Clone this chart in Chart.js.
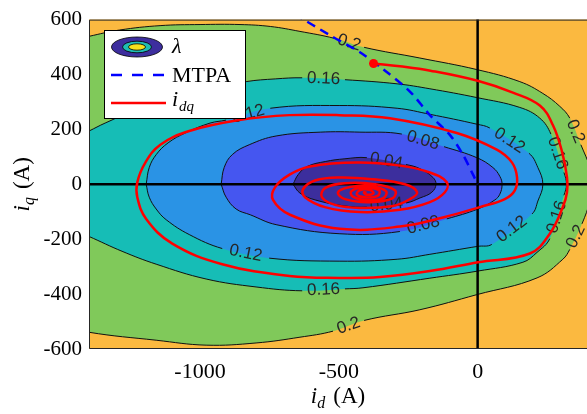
<!DOCTYPE html>
<html>
<head>
<meta charset="utf-8">
<script src="https://cdn.jsdelivr.net/npm/chart.js@4.4.1/dist/chart.umd.min.js"></script>
<style>
  html, body { margin: 0; padding: 0; background: #fff; }
  #wrap { width: 587px; height: 414px; }
</style>
</head>
<body>
<div id="wrap"><canvas id="flux" width="587" height="414"></canvas></div>
<script>
// --- flux linkage contours, [i_d, i_q] in A ---
// gaps = index of the segment where the inline level label sits
const lam020 = [[-1480,520],[-1400,539],[-1290,562],[-1144,578],[-1000,582],[-856,582],[-747,575],[-640,557],
  [-517,532],[-409,499],[-208,460],[-3,418],[152,374],[235,331],[296,284],[332,241],[372,144],[405,60],[415,0],
  [405,-60],[376,-144],[332,-237],[307,-273],[214,-341],[-3,-402],[-208,-457],[-409,-496],[-521,-535],[-640,-557],
  [-798,-578],[-978,-586],[-1158,-568],[-1400,-539],[-1480,-515],[-1480,520]];
const lam020Gaps = [8, 15, 20, 26];

const lam016 = [[-1470,160],[-1400,194],[-1342,223],[-1216,277],[-1072,320],[-928,352],[-834,374],[-729,384],
  [-632,388],[-478,381],[-290,366],[-172,348],[-3,316],[152,280],[224,241],[264,183],[311,43],[320,0],[311,-40],
  [260,-198],[214,-248],[163,-284],[1,-316],[-172,-342],[-413,-377],[-478,-381],[-632,-388],[-798,-374],
  [-978,-345],[-1158,-291],[-1281,-244],[-1400,-190],[-1470,-160],[-1470,160]];
const lam016Gaps = [8, 15, 18, 25];

const lam012 = [[-1194,0],[-1183,61],[-1158,108],[-1115,151],[-1053,187],[-964,223],[-906,234],[-747,277],
  [-499,287],[-290,277],[-172,255],[-3,219],[44,205],[185,113],[217,61],[235,0],[217,-61],[196,-108],[51,-219],
  [1,-226],[-172,-255],[-290,-273],[-499,-280],[-751,-269],[-920,-234],[-1039,-183],[-1122,-129],[-1158,-90],
  [-1183,-47],[-1194,0]];
const lam012Gaps = [6, 12, 17, 23];

const lam008 = [[-924,0],[-913,61],[-884,108],[-823,144],[-726,176],[-567,190],[-424,190],[-273,183],[-121,137],
  [-3,97],[55,61],[80,29],[88,0],[80,-36],[62,-57],[1,-90],[-111,-126],[-280,-172],[-499,-180],[-726,-147],
  [-819,-111],[-870,-90],[-906,-47],[-924,0]];
const lam008Gaps = [7, 16];

const lam004 = [[-665,0],[-646,36],[-614,65],[-549,83],[-478,93],[-399,97],[-258,72],[-208,57],[-161,25],
  [-150,0],[-165,-29],[-208,-50],[-258,-68],[-399,-83],[-478,-79],[-585,-57],[-640,-32],[-665,0]];
const lam004Gaps = [5, 12];

const levels = [0.04, 0.08, 0.12, 0.16, 0.2];

// outside every closed contour (lambda > 0.2)
const lamOuter = [[-1500,-700],[500,-700],[500,700],[-1500,700],[-1500,-700]];

// MTPA trajectory
const mtpa = [[-660,620],[-525,539],[-424,481],[-341,420],[-244,338],[-172,252],[-100,180],[-53,108],[-17,36],[0,0]];

// current trajectory i_dq, spiralling in from the start point
const idqStart = [[-375,440]];
const idq = [[-375,440],[-280,430],[-170,414],[0,377],[127,334],[224,287],[271,216],[304,119],[322,25],[322,-29],
  [307,-83],[260,-180],[188,-252],[1,-284],[-172,-316],[-352,-338],[-498,-341],[-678,-334],[-920,-291],
  [-1100,-216],[-1194,-126],[-1226,-47],[-1226,7],[-1197,79],[-1143,144],[-1039,194],[-859,234],[-678,252],
  [-498,252],[-316,241],[-75,187],[69,126],[124,79],[142,25],[134,-22],[98,-54],[8,-83],[-118,-119],[-280,-154],
  [-496,-162],[-676,-111],[-737,-57],[-730,-11],[-676,36],[-604,65],[-434,79],[-280,68],[-172,43],[-111,7],
  [-118,-29],[-172,-65],[-280,-93],[-424,-101],[-550,-83],[-622,-47],[-629,-18],[-586,14],[-496,25],[-376,18],
  [-262,0],[-218,-29],[-244,-54],[-305,-79],[-424,-86],[-514,-75],[-561,-47],[-550,-14],[-478,4],[-370,0],
  [-298,-22],[-305,-50],[-388,-65],[-478,-54],[-503,-29],[-460,-10],[-390,-5],[-330,-25],[-340,-50],[-400,-58],
  [-450,-45],[-455,-25],[-410,-12],[-355,-22],[-360,-42],[-400,-48],[-435,-38],[-425,-22],[-390,-20],[-375,-32],
  [-400,-38],[-410,-30],[-400,-30]];

// axes through the origin
const dAxis = [[-1500,0],[500,0]];
const qAxis = [[0,-700],[0,700]];

const xTicks = [-1000, -500, 0];
const yTicks = [-600, -400, -200, 0, 200, 400, 600];

const pts = a => a.map(([x, y]) => ({x, y}));

// one filled band + one outline with label gaps per level
function contour(data, gaps, level, color, order) {
  return [
    {data: pts(data), order, showLine: true, tension: 0.4, pointRadius: 0,
      fill: 'shape', backgroundColor: color, borderWidth: 0},
    {data: pts(data), gaps, level: String(level), order: order - 0.5,
      showLine: true, tension: 0.4, pointRadius: 0, fill: false,
      borderColor: '#111', borderWidth: 1,
      segment: {borderColor: c => gaps.includes(c.p0DataIndex) ? 'rgba(0,0,0,0)' : undefined}}
  ];
}

const serif = '"Liberation Serif", "Times New Roman", serif';

// draws runs of text (for subscripts), centred on x
function runs(ctx, parts, x, y) {
  let w = 0;
  parts.forEach(p => { ctx.font = p.f; w += ctx.measureText(p.t).width + (p.gap || 0); });
  let cx = x - w / 2;
  parts.forEach(p => {
    ctx.font = p.f;
    ctx.fillText(p.t, cx, y + (p.dy || 0));
    cx += ctx.measureText(p.t).width + (p.gap || 0);
  });
}

// inline contour labels, drawn right after each outline so the trajectories sit on top
const contourLabels = {
  id: 'contourLabels',
  afterDatasetDraw(chart, args) {
    const ds = chart.data.datasets[args.index];
    if (!ds.gaps) return;
    const {ctx, chartArea: a, scales: {x, y}} = chart;
    ctx.save();
    ctx.beginPath();
    ctx.rect(a.left, a.top, a.right - a.left, a.bottom - a.top);
    ctx.clip();
    ctx.font = '17px "Liberation Sans", Arial, sans-serif';
    ctx.fillStyle = '#262626';
    ctx.textAlign = 'center';
    ctx.textBaseline = 'middle';
    ds.gaps.forEach(i => {
      const p = ds.data[i], q = ds.data[i + 1];
      const x0 = x.getPixelForValue(p.x), y0 = y.getPixelForValue(p.y);
      const x1 = x.getPixelForValue(q.x), y1 = y.getPixelForValue(q.y);
      let ang = Math.atan2(y1 - y0, x1 - x0);
      if (ang > Math.PI / 2) ang -= Math.PI;
      else if (ang < -Math.PI / 2) ang += Math.PI;
      ctx.save();
      ctx.translate((x0 + x1) / 2, (y0 + y1) / 2);
      ctx.rotate(ang);
      ctx.fillText(ds.level, 0, 0);
      ctx.restore();
    });
    ctx.restore();
  }
};

// frame, axis titles and legend
const decorations = {
  id: 'decorations',
  afterDraw(chart) {
    const {ctx, chartArea: a} = chart;
    ctx.save();
    ctx.strokeStyle = '#262626';
    ctx.lineWidth = 1;
    ctx.beginPath();
    ctx.moveTo(a.right, a.top + 0.5); ctx.lineTo(a.left + 0.5, a.top + 0.5);
    ctx.lineTo(a.left + 0.5, a.bottom - 0.5); ctx.lineTo(a.right, a.bottom - 0.5);
    ctx.stroke();

    ctx.fillStyle = '#000';
    ctx.textBaseline = 'alphabetic';
    ctx.textAlign = 'left';
    runs(ctx, [
      {t: 'i', f: 'italic 23px ' + serif},
      {t: 'd', f: 'italic 16px ' + serif, dy: 5, gap: 8},
      {t: '(A)', f: '23px ' + serif}
    ], (a.left + a.right) / 2, 403);

    ctx.save();
    ctx.translate(29, (a.top + a.bottom) / 2);
    ctx.rotate(-Math.PI / 2);
    runs(ctx, [
      {t: 'i', f: 'italic 23px ' + serif},
      {t: 'q', f: 'italic 16px ' + serif, dy: 5, gap: 8},
      {t: '(A)', f: '23px ' + serif}
    ], 0, 0);
    ctx.restore();

    // legend box
    const L = 104, T = 30, W = 141, H = 88;
    ctx.fillStyle = '#fff';
    ctx.fillRect(L, T, W, H);
    ctx.strokeStyle = '#000';
    ctx.strokeRect(L + 0.5, T + 0.5, W, H);

    const ell = (rx, ry, fill) => {
      ctx.beginPath();
      ctx.ellipse(137, 47, rx, ry, 0, 0, Math.PI * 2);
      ctx.fillStyle = fill; ctx.fill();
      ctx.lineWidth = 0.8; ctx.strokeStyle = '#000'; ctx.stroke();
    };
    ell(25.5, 10, '#3d2e9e');
    ell(14.5, 5.8, '#1fbdb3');
    ell(8.5, 3.2, '#f6e01c');

    ctx.lineWidth = 2.5;
    ctx.strokeStyle = '#0000ff';
    ctx.setLineDash([11, 10]);
    ctx.beginPath(); ctx.moveTo(111, 75); ctx.lineTo(166, 75); ctx.stroke();
    ctx.setLineDash([]);
    ctx.strokeStyle = '#ff0000';
    ctx.beginPath(); ctx.moveTo(111, 103); ctx.lineTo(166, 103); ctx.stroke();

    ctx.fillStyle = '#000';
    ctx.textAlign = 'left';
    ctx.font = 'italic 22px ' + serif;
    ctx.fillText('\u03bb', 172, 53);
    ctx.font = '22px ' + serif;
    ctx.fillText('MTPA', 172, 82);
    ctx.font = 'italic 22px ' + serif;
    ctx.fillText('i', 172, 106);
    ctx.font = 'italic 15px ' + serif;
    ctx.fillText('dq', 179, 111);
    ctx.restore();
  }
};

new Chart(document.getElementById('flux'), {
  type: 'scatter',
  data: {
    datasets: [
      {data: pts(idq), showLine: true, tension: 0.4, pointRadius: 0, borderColor: '#ff0000', borderWidth: 2.5, order: 0},
      {data: pts(idqStart), pointRadius: 4.5, pointBackgroundColor: '#ff0000', pointBorderWidth: 0, order: 0},
      {data: pts(mtpa), showLine: true, tension: 0.3, pointRadius: 0, borderColor: '#0000ff', borderWidth: 2.5,
        borderDash: [9, 6], order: 1},
      {data: pts(dAxis), showLine: true, pointRadius: 0, borderColor: '#000', borderWidth: 2.5, order: 2},
      {data: pts(qAxis), showLine: true, pointRadius: 0, borderColor: '#000', borderWidth: 2.5, order: 2},
      ...contour(lam004, lam004Gaps, levels[0], '#3c2e9d', 4),
      ...contour(lam008, lam008Gaps, levels[1], '#4556f0', 5),
      ...contour(lam012, lam012Gaps, levels[2], '#2a93e5', 6),
      ...contour(lam016, lam016Gaps, levels[3], '#16bdb6', 7),
      ...contour(lam020, lam020Gaps, levels[4], '#80c95a', 8),
      {data: pts(lamOuter), showLine: true, pointRadius: 0, borderWidth: 0, fill: 'shape',
        backgroundColor: '#fbb940', order: 9}
    ]
  },
  options: {
    responsive: false,
    animation: false,
    devicePixelRatio: 1,
    events: [],
    layout: {autoPadding: false, padding: {top: 15, right: 0, left: 0, bottom: 0}},
    plugins: {legend: {display: false}, tooltip: {enabled: false}},
    scales: {
      x: {
        type: 'linear', min: -1400, max: 394,
        grid: {display: false, drawTicks: false}, border: {display: false},
        afterBuildTicks: s => { s.ticks = xTicks.map(v => ({value: v})); },
        afterFit: s => { s.height = 65; s.paddingRight = 0; s.paddingLeft = 0; },
        ticks: {padding: 10, color: '#000', font: {family: serif, size: 22}, callback: v => String(v)}
      },
      y: {
        type: 'linear', min: -600, max: 600,
        grid: {display: false, drawTicks: false}, border: {display: false},
        afterBuildTicks: s => { s.ticks = yTicks.map(v => ({value: v})); },
        afterFit: s => { s.width = 89; },
        ticks: {padding: 7, color: '#000', font: {family: serif, size: 21}, callback: v => String(v)}
      }
    }
  },
  plugins: [contourLabels, decorations]
});
</script>
</body>
</html>
